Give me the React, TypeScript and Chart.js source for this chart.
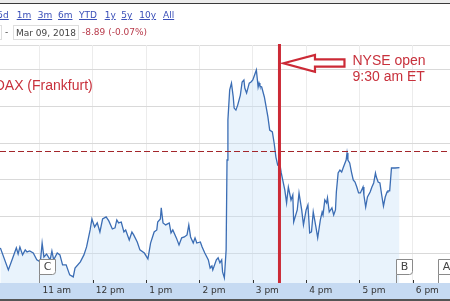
import React, { useEffect, useRef } from "react";
import { Chart, registerables } from "chart.js";

Chart.register(...registerables);

// Intraday DAX, 9 March 2018 (time = minutes after midnight, CET)
const times = [
  616, 625, 630, 634, 636, 638, 641, 644, 646, 649, 653, 657, 661, 663, 665, 668, 672, 674, 676, 680,
  683, 686, 690, 694, 698, 700, 706, 710, 713, 717, 719, 722, 725, 728, 731, 735, 738,
  742, 745, 747, 749, 752, 755, 757, 761, 764, 766, 770, 773, 778, 782, 785, 789, 792, 793, 796, 797,
  799, 802, 806, 808, 810, 814, 817, 820, 823, 826, 828, 830, 833, 835, 837, 841, 843, 846, 850, 852,
  854, 855, 859, 861,
  863, 865, 866, 868, 870, 871, 872, 874, 876, 878, 879, 881, 883, 886, 888, 890, 891, 893, 896, 898,
  900, 902, 904, 906, 907, 908, 910, 913, 915, 917, 919, 922, 924, 926, 928, 931,
  932, 936, 938, 940, 943, 945, 946, 949, 950, 952, 955, 957, 960, 962, 964, 966, 968, 971, 973, 976,
  978, 979, 981, 983, 984, 986, 989, 991, 993, 994, 996, 998, 1000, 1002, 1005, 1006, 1007, 1009, 1011,
  1013, 1015, 1017, 1019, 1021, 1024, 1025, 1027, 1029, 1032, 1034, 1036, 1038, 1039, 1041, 1043, 1045,
  1047, 1049, 1051, 1052, 1054, 1056, 1060, 1065,
];
const prices = [
  12303.3, 12291.4, 12297.9, 12303.3, 12300.0, 12303.8, 12299.5, 12302.2, 12301.1, 12301.6, 12300.5,
  12296.8, 12295.7, 12305.9, 12298.4, 12300.0, 12296.8, 12301.6, 12296.8, 12300.5,
  12299.5, 12294.1, 12294.1, 12288.7, 12287.6, 12292.4, 12295.7, 12299.5, 12303.8, 12313.0, 12318.9,
  12314.6, 12316.8, 12311.9, 12318.9, 12320.0, 12317.9,
  12313.5, 12314.1, 12318.4, 12316.8, 12317.3, 12311.9, 12313.0, 12307.6, 12311.9, 12310.3, 12306.5,
  12302.2, 12300.5, 12297.3, 12305.9, 12311.9, 12313.0, 12317.3, 12318.9, 12324.9,
  12316.8, 12315.7, 12316.8, 12311.4, 12313.0, 12308.7, 12304.9, 12308.7, 12309.2, 12310.3, 12315.7,
  12309.2, 12305.9, 12308.7, 12305.9, 12306.5, 12303.8, 12300.5, 12296.8, 12292.4,
  12293.5, 12291.4, 12296.8, 12297.9,
  12295.2, 12296.8, 12290.3, 12287.1, 12302.2, 12350.8, 12372.4, 12388.7, 12392.4, 12384.9, 12378.9,
  12377.8, 12380.5, 12385.9, 12393.0, 12394.1, 12389.7, 12387.0, 12392.4, 12393.0,
  12394.1, 12396.8, 12399.5, 12390.3, 12392.4, 12390.8, 12390.3, 12384.9, 12379.5, 12374.1, 12367.0,
  12366.0, 12360.0, 12352.4, 12348.1, 12347.0,
  12343.8, 12334.6, 12327.6, 12336.2, 12329.2, 12331.9, 12317.3, 12322.2, 12323.8, 12333.0, 12323.8,
  12315.7, 12323.8, 12326.5, 12311.4, 12311.9, 12322.7, 12314.6, 12308.7, 12318.4,
  12322.7, 12321.1, 12329.2, 12327.6, 12330.3, 12322.7, 12324.9, 12321.1, 12323.8, 12333.5, 12343.8,
  12345.4, 12344.3, 12347.0, 12350.8, 12354.6, 12350.8, 12349.2, 12344.3,
  12340.0, 12338.9, 12336.2, 12333.0, 12333.0, 12336.2, 12331.9, 12325.4, 12330.8, 12333.5, 12336.2,
  12338.4, 12343.8, 12341.6, 12338.9, 12338.4, 12331.9,
  12325.9, 12330.8, 12333.5, 12334.1, 12334.1, 12346.5, 12346.5, 12346.7,
];

const hourTicks = [660, 720, 780, 840, 900, 960, 1020, 1080];
const hourLabels = ["11 am", "12 pm", "1 pm", "2 pm", "3 pm", "4 pm", "5 pm", "6 pm"];
const gridValues = [12300, 12320, 12340, 12360, 12380, 12400];
const prevClose = 12355.57;
const nyseOpenTime = 930;
const flagLabels = ["C", "B", "A"];
const flagTimes = [660, 1061, 1108];
const rangeLinks = ["5d", "1m", "3m", "6m", "YTD", "1y", "5y", "10y", "All"];
const linkLefts = [-2.7, 16.7, 37.7, 58, 79, 104.7, 121.3, 139.3, 163];
const dateText = "Mar 09, 2018";
const changeText = "-8.89 (-0.07%)";

const X_MIN = 615.6;
const X_MAX = 1121.85;
const Y_MIN = 12284.3;
const Y_MAX = 12413.0;

const RED = "#cc2a36";

const overlay = {
  id: "overlay",
  beforeDraw(chart: any) {
    const { ctx, chartArea: ca, width, height } = chart;
    ctx.save();
    ctx.fillStyle = "#c6daf2";
    ctx.fillRect(0, ca.bottom, width, height - ca.bottom);
    ctx.fillStyle = "#555555";
    ctx.fillRect(0, height - 2, width, 2);
    ctx.strokeStyle = "#dcdcdc";
    ctx.lineWidth = 1;
    ctx.beginPath();
    ctx.moveTo(0, ca.top + 0.5);
    ctx.lineTo(width, ca.top + 0.5);
    ctx.stroke();
    ctx.restore();
  },
  afterDatasetsDraw(chart: any) {
    const { ctx, chartArea: ca, width } = chart;
    const xs = chart.scales.x;
    const ys = chart.scales.y;
    ctx.save();

    // previous close dashed line
    const py = Math.round(ys.getPixelForValue(prevClose)) + 0.5;
    ctx.strokeStyle = "#a3262b";
    ctx.lineWidth = 1;
    ctx.setLineDash([6, 3]);
    ctx.beginPath();
    ctx.moveTo(0, py);
    ctx.lineTo(width, py);
    ctx.stroke();
    ctx.setLineDash([]);

    // tick marks
    ctx.strokeStyle = "#333";
    hourTicks.forEach((t) => {
      const x = Math.round(xs.getPixelForValue(t)) + 0.5;
      ctx.beginPath();
      ctx.moveTo(x, ca.bottom - 3);
      ctx.lineTo(x, ca.bottom);
      ctx.stroke();
    });

    // flags
    flagTimes.forEach((t, i) => {
      const x = Math.round(xs.getPixelForValue(t)) + 0.5;
      const top = ca.bottom - 23.5;
      const bot = ca.bottom - 8.5;
      const w = 16;
      const r = 3;
      ctx.strokeStyle = "#8a8a8a";
      ctx.fillStyle = "#ffffff";
      ctx.lineWidth = 1;
      ctx.beginPath();
      ctx.moveTo(x, top);
      ctx.lineTo(x + w, top);
      ctx.lineTo(x + w, bot - r);
      ctx.quadraticCurveTo(x + w, bot, x + w - r, bot);
      ctx.lineTo(x, bot);
      ctx.closePath();
      ctx.fill();
      ctx.stroke();
      ctx.beginPath();
      ctx.moveTo(x, bot);
      ctx.lineTo(x, ca.bottom);
      ctx.stroke();
      ctx.fillStyle = "#444";
      ctx.font = '11px "DejaVu Sans"';
      ctx.textAlign = "center";
      ctx.textBaseline = "middle";
      ctx.fillText(flagLabels[i], x + w / 2, (top + bot) / 2 + 0.5);
    });

    // NYSE open line
    const ox = xs.getPixelForValue(nyseOpenTime);
    ctx.fillStyle = RED;
    ctx.fillRect(ox - 1.5, ca.top - 1, 3, ca.bottom - ca.top + 1);

    // arrow
    const tipX = ox + 4;
    const ay = 63.3;
    ctx.strokeStyle = RED;
    ctx.fillStyle = "#ffffff";
    ctx.lineWidth = 2.2;
    ctx.lineJoin = "miter";
    ctx.beginPath();
    ctx.moveTo(tipX, ay);
    ctx.lineTo(tipX + 31.5, ay - 8.3);
    ctx.lineTo(tipX + 31.5, ay - 4);
    ctx.lineTo(tipX + 61, ay - 4);
    ctx.lineTo(tipX + 61, ay + 3.4);
    ctx.lineTo(tipX + 31.5, ay + 3.4);
    ctx.lineTo(tipX + 31.5, ay + 8.4);
    ctx.closePath();
    ctx.fill();
    ctx.stroke();

    // texts
    ctx.fillStyle = "#c8313c";
    ctx.font = '14px "Liberation Sans", Arial, sans-serif';
    ctx.textBaseline = "middle";
    ctx.textAlign = "left";
    ctx.fillText("NYSE open", 352.5, 61);
    ctx.fillText("9:30 am ET", 352.5, 77.5);
    ctx.textAlign = "right";
    ctx.fillText("DAX (Frankfurt)", 92.7, 86.5);

    ctx.restore();
  },
};

export default function App() {
  const ref = useRef<HTMLCanvasElement | null>(null);

  useEffect(() => {
    if (!ref.current) return;
    const chart = new Chart(ref.current, {
      type: "line",
      data: {
        datasets: [
          {
            data: times.map((t, i) => ({ x: t, y: prices[i] })),
            borderColor: "#3b6db4",
            borderWidth: 1.3,
            backgroundColor: "rgba(200,225,248,0.4)",
            fill: "start",
            pointRadius: 0,
            tension: 0,
          },
        ],
      },
      options: {
        animation: false,
        responsive: false,
        devicePixelRatio: 1,
        layout: { padding: { top: 45, left: 0, right: 0, bottom: 0 }, autoPadding: false },
        plugins: { legend: { display: false }, tooltip: { enabled: false } },
        scales: {
          x: {
            type: "linear",
            min: X_MIN,
            max: X_MAX,
            afterBuildTicks: (s: any) => {
              s.ticks = hourTicks.map((v) => ({ value: v }));
            },
            afterFit: (s: any) => {
              s.height = 18;
            },
            grid: { color: "#ececec", drawTicks: false },
            border: { display: false },
            ticks: {
              callback: (v: any) => hourLabels[hourTicks.indexOf(Number(v))] ?? "",
              align: "start",
              labelOffset: 3,
              padding: 2,
              autoSkip: false,
              maxRotation: 0,
              color: "#333",
              font: { family: "DejaVu Sans", size: 9 },
            },
          },
          y: {
            min: Y_MIN,
            max: Y_MAX,
            afterBuildTicks: (s: any) => {
              s.ticks = gridValues.map((v) => ({ value: v }));
            },
            afterFit: (s: any) => {
              s.width = 0;
            },
            grid: { color: "#d9d9d9", drawTicks: false },
            border: { display: false },
            ticks: { display: false },
          },
        },
      } as any,
      plugins: [overlay],
    });
    return () => chart.destroy();
  }, []);

  const small = { fontFamily: '"DejaVu Sans", Verdana, sans-serif', fontSize: 9, lineHeight: "11px" };

  return (
    <div style={{ position: "absolute", left: 0, top: 0, width: 450, height: 301, overflow: "hidden", background: "#fff" }}>
      <canvas ref={ref} width={450} height={301} style={{ position: "absolute", left: 0, top: 0 }} />
      <div style={{ position: "absolute", left: 0, top: 0, width: 450, height: 3, background: "#ececec" }} />
      <div style={{ position: "absolute", left: 0, top: 3, width: 450, height: 1, background: "#3a3a3a" }} />
      {rangeLinks.map((l, i) => (
        <span
          key={l}
          style={{
            ...small,
            position: "absolute",
            left: linkLefts[i],
            top: 10,
            color: "#3a4fb8",
            textDecoration: "underline",
            whiteSpace: "nowrap",
          }}
        >
          {l}
        </span>
      ))}
      <div style={{ position: "absolute", left: -50, top: 25, width: 50, height: 13, border: "1px solid #dedede", boxSizing: "content-box" }} />
      <span style={{ ...small, position: "absolute", left: 5, top: 27, color: "#444" }}>-</span>
      <div
        style={{
          ...small,
          position: "absolute",
          left: 13,
          top: 25,
          width: 62,
          height: 13,
          border: "1px solid #dedede",
          color: "#444",
          paddingLeft: 2,
          lineHeight: "14px",
          whiteSpace: "nowrap",
        }}
      >
        {dateText}
      </div>
      <span style={{ ...small, position: "absolute", left: 82, top: 27, color: "#b83b4b", whiteSpace: "nowrap" }}>
        {changeText}
      </span>
    </div>
  );
}
